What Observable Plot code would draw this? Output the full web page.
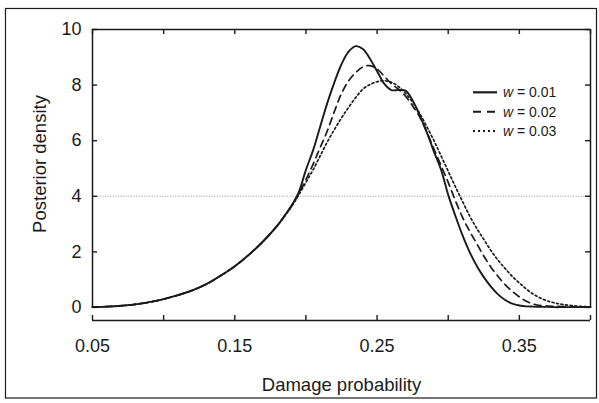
<!DOCTYPE html>
<html>
<head>
<meta charset="utf-8">
<script src="https://cdn.jsdelivr.net/npm/d3@7"></script>
<script src="https://cdn.jsdelivr.net/npm/@observablehq/plot@0.6"></script>
<style>
html, body { margin: 0; padding: 0; background: #fff; }
#chart { width: 599px; height: 403px; }
</style>
</head>
<body>
<div id="chart"></div>
<script>
// ---- data ----
const xs = [0.05,0.06,0.07,0.08,0.09,0.10,0.11,0.12,0.13,0.14,0.15,0.16,0.17,0.18,0.185,0.19,0.195,0.20,0.205,0.21,0.215,0.22,0.225,0.23,0.235,0.24,0.245,0.25,0.255,0.26,0.265,0.27,0.275,0.28,0.285,0.29,0.295,0.30,0.305,0.31,0.315,0.32,0.325,0.33,0.335,0.34,0.345,0.35,0.355,0.36,0.365,0.37,0.375,0.38,0.39,0.40];
const w01 = [0.01,0.03,0.06,0.11,0.19,0.30,0.44,0.61,0.84,1.14,1.48,1.90,2.38,2.95,3.30,3.68,4.15,4.95,5.65,6.50,7.35,8.10,8.75,9.20,9.40,9.30,8.95,8.50,8.05,7.82,7.82,7.80,7.45,6.90,6.30,5.60,4.95,4.05,3.30,2.60,2.00,1.50,1.09,0.75,0.47,0.27,0.14,0.07,0.04,0.03,0.02,0.02,0.01,0.01,0.01,0.01];
const w02 = [0.01,0.03,0.06,0.11,0.19,0.30,0.44,0.61,0.84,1.14,1.48,1.90,2.38,2.95,3.30,3.66,4.10,4.60,5.15,5.75,6.35,7.05,7.70,8.15,8.45,8.65,8.70,8.58,8.32,8.05,7.85,7.60,7.25,6.85,6.30,5.70,5.10,4.50,3.85,3.25,2.75,2.30,1.85,1.45,1.12,0.82,0.58,0.38,0.22,0.12,0.07,0.05,0.04,0.03,0.02,0.01];
const w03 = [0.01,0.03,0.06,0.11,0.19,0.30,0.44,0.61,0.84,1.14,1.48,1.90,2.38,2.95,3.28,3.64,4.05,4.50,4.95,5.45,5.95,6.40,6.82,7.20,7.55,7.85,8.02,8.12,8.16,8.10,7.95,7.70,7.38,6.98,6.50,6.00,5.45,4.90,4.35,3.82,3.30,2.85,2.45,2.05,1.70,1.40,1.12,0.88,0.66,0.47,0.33,0.23,0.16,0.11,0.05,0.02];
const seriesW = ["0.01", "0.02", "0.03"];
const yTickValues = [0, 2, 4, 6, 8, 10];
const xTickValues = [0.05, 0.10, 0.15, 0.20, 0.25, 0.30, 0.35, 0.40];
const xLabelValues = [0.05, 0.15, 0.25, 0.35];
const refLevel = [4];
const xTitle = "Damage probability";
const yTitle = "Posterior density";

// ---- layout / style ----
const W = 599, H = 403;
const mL = 92, mR = 9, mT = 29, mB = 83;
const xDomain = [0.05, 0.40];
const yDomain = [-0.47, 10];
const ink = "#1b1b1b";
const font = "'Liberation Sans', Arial, Helvetica, sans-serif";
const dashes = [null, "7,5", "2,2.6"];
const widths = [1.9, 1.7, 1.7];
const tickPx = 5;
const tx = tickPx * (xDomain[1] - xDomain[0]) / (W - mL - mR);
const ty = tickPx * (yDomain[1] - yDomain[0]) / (H - mT - mB);

const seriesArrays = [w01, w02, w03];
const rows = [];
seriesArrays.forEach((arr, i) => arr.forEach((v, j) => rows.push({x: xs[j], y: v, s: seriesW[i]})));

const frameStyle = {stroke: ink, strokeWidth: 1.5};
const tickStyle = {stroke: ink, strokeWidth: 1.4};

const marks = [
  Plot.ruleY(refLevel, {x1: xDomain[0], x2: xDomain[1], stroke: "#777", strokeWidth: 0.8, strokeDasharray: "1,1.6"}),
  ...seriesW.map((w, i) => Plot.line(rows.filter(r => r.s === w), {
    x: "x", y: "y", curve: "catmull-rom", stroke: ink,
    strokeWidth: widths[i], strokeDasharray: dashes[i]
  })),
  // frame: left, right, top
  Plot.ruleX([xDomain[0], xDomain[1]], {y1: 0, y2: 10, ...frameStyle}),
  Plot.ruleY([10], {x1: xDomain[0], x2: xDomain[1], ...frameStyle}),
  // detached x axis line
  Plot.ruleY([yDomain[0]], {x1: xDomain[0], x2: xDomain[1], ...frameStyle}),
  // inward ticks
  Plot.ruleY(yTickValues, {x1: xDomain[0], x2: xDomain[0] + tx, ...tickStyle}),
  Plot.ruleY(yTickValues, {x1: xDomain[1] - tx, x2: xDomain[1], ...tickStyle}),
  Plot.ruleX(xTickValues, {y1: 10 - ty, y2: 10, ...tickStyle}),
  Plot.ruleX(xTickValues, {y1: yDomain[0], y2: yDomain[0] + ty, ...tickStyle}),
  // tick labels
  Plot.axisY({ticks: yTickValues, tickSize: 0, tickPadding: 11, label: null, fill: ink}),
  Plot.axisX({ticks: xLabelValues, tickSize: 0, tickPadding: 19, label: null, tickFormat: d3.format(".2f"), fill: ink}),
  // titles
  Plot.text([xTitle], {text: d => d, frameAnchor: "bottom", textAnchor: "middle", lineAnchor: "middle", dy: 65, fontSize: 18.5, fill: ink}),
  Plot.text([yTitle], {text: d => d, frameAnchor: "left", textAnchor: "middle", lineAnchor: "middle", rotate: -90, dx: -52, dy: -11, fontSize: 18.5, fill: ink})
];

const plot = Plot.plot({
  width: W,
  height: H,
  marginLeft: mL,
  marginRight: mR,
  marginTop: mT,
  marginBottom: mB,
  x: {domain: xDomain, axis: null},
  y: {domain: yDomain, axis: null},
  style: {fontFamily: font, fontSize: "18px", color: ink, background: "#fff", overflow: "visible"},
  marks
});

document.getElementById("chart").appendChild(plot);

// outer border and legend (decoration)
const svg = d3.select(plot);
svg.append("rect")
  .attr("x", 5.5).attr("y", 8.5).attr("width", 591).attr("height", 389.5)
  .attr("fill", "none").attr("stroke", ink).attr("stroke-width", 1.2);

const legend = svg.append("g")
  .attr("font-family", font).attr("font-size", 14).attr("fill", ink)
  .attr("text-anchor", "start");
const legendRowsY = [92.3, 111.7, 131];
seriesW.forEach((w, i) => {
  const y = legendRowsY[i];
  legend.append("line")
    .attr("x1", 473).attr("x2", 497).attr("y1", y).attr("y2", y)
    .attr("stroke", ink).attr("stroke-width", i === 0 ? 2.2 : 2)
    .attr("stroke-dasharray", i === 0 ? null : (i === 1 ? "8,6" : "2,3"));
  const t = legend.append("text").attr("x", 503).attr("y", y).attr("dy", "0.35em");
  t.append("tspan").attr("font-style", "italic").text("w");
  t.append("tspan").text(" = " + w);
});
</script>
</body>
</html>
